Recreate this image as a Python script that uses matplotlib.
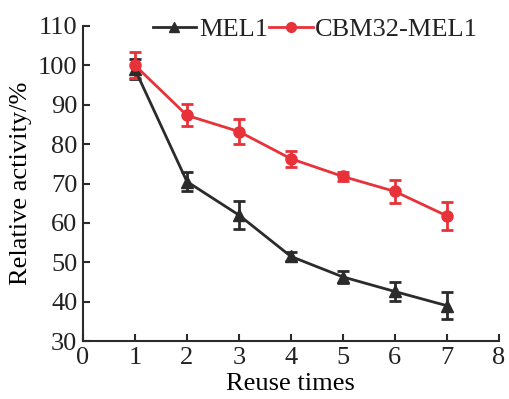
import matplotlib
matplotlib.use("Agg")
import matplotlib.pyplot as plt
from matplotlib.lines import Line2D

plt.rcParams['font.family'] = ['Liberation Serif', 'DejaVu Serif']

reuse = [1, 2, 3, 4, 5, 6, 7]
mel1 = [99.0, 70.5, 62.0, 51.5, 46.3, 42.6, 39.0]
mel1_err = [2.5, 2.5, 3.5, 1.2, 1.5, 2.3, 3.5]
cbm = [100.0, 87.3, 83.2, 76.3, 71.8, 68.0, 61.8]
cbm_err = [3.3, 2.8, 3.2, 2.0, 1.2, 3.0, 3.5]

fig = plt.figure(figsize=(5.09, 3.99), dpi=100)
ax = fig.add_axes([0.163, 0.145, 0.817, 0.79])

black = '#2b2b2b'
red = '#e8323a'
ax.errorbar(reuse, mel1, yerr=mel1_err, color=black, marker='^', markersize=8,
            lw=2, capsize=4, elinewidth=2, capthick=2)
ax.errorbar(reuse, cbm, yerr=cbm_err, color=red, marker='o', markersize=8,
            lw=2, capsize=4, elinewidth=2, capthick=2)

ax.set_xlim(0, 8)
ax.set_ylim(30, 110)
ax.set_xticks(range(0, 9))
ax.set_yticks(range(30, 111, 10))
for s in ['top', 'right']:
    ax.spines[s].set_visible(False)
for s in ['left', 'bottom']:
    ax.spines[s].set_linewidth(1.5)
    ax.spines[s].set_color(black)
ax.tick_params(direction='in', length=5, width=1.5, labelsize=19, color=black,
               labelcolor='#222222', pad=4)
ax.set_xlabel('Reuse times', fontsize=19, labelpad=3)
ax.set_ylabel('Relative activity/%', fontsize=19, labelpad=4)

handles = [Line2D([], [], color=black, marker='^', markersize=7, lw=2),
           Line2D([], [], color=red, marker='o', markersize=7, lw=2)]
leg = ax.legend(handles, ['MEL1', 'CBM32-MEL1'], loc='center',
                bbox_to_anchor=(0.559, 0.988), ncol=2, frameon=False,
                fontsize=19, handlelength=1.65, handletextpad=0.1, columnspacing=0.05,
                borderaxespad=0, borderpad=0)
for t in leg.get_texts():
    t.set_color('#222222')

fig.savefig('out.png', dpi=100)
